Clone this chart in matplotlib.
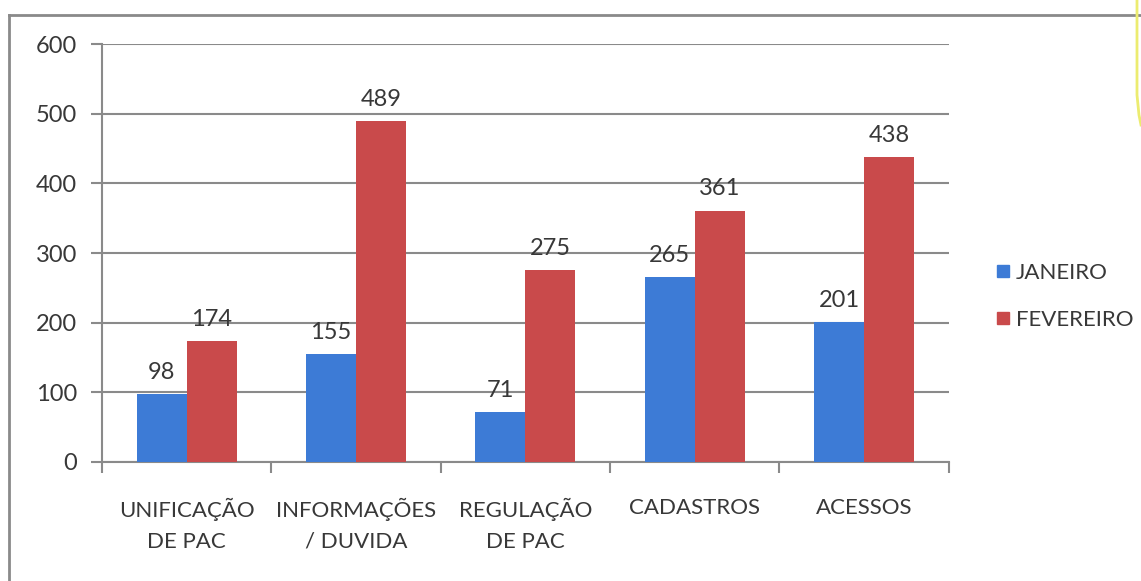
import numpy as np
import matplotlib.pyplot as plt
from matplotlib.lines import Line2D

# dados do gráfico
categorias = ["UNIFICAÇÃO\nDE PAC", "INFORMAÇÕES\n/ DUVIDA", "REGULAÇÃO\nDE PAC", "CADASTROS", "ACESSOS"]
janeiro = [98, 155, 71, 265, 201]
fevereiro = [174, 489, 275, 361, 438]
series = ["JANEIRO", "FEVEREIRO"]

AZUL = "#3d7bd6"
VERMELHO = "#c94a4b"
CINZA = "#8a8a8a"
TEXTO = "#383838"

plt.rcParams['font.family'] = ['Lato', 'DejaVu Sans']

fig = plt.figure(figsize=(11.41, 5.81), dpi=100)
ax = fig.add_axes([0.0894, 0.205, 0.742, 0.719])

x = np.arange(len(categorias))
w = 0.295
b1 = ax.bar(x - w / 2, janeiro, w, color=AZUL, label=series[0], zorder=3)
b2 = ax.bar(x + w / 2, fevereiro, w, color=VERMELHO, label=series[1], zorder=3)

for bars, vals in ((b1, janeiro), (b2, fevereiro)):
    for r, v in zip(bars, vals):
        ax.annotate(str(v), (r.get_x() + r.get_width() / 2, v), xytext=(0, 8),
                    textcoords="offset points", ha="center", va="bottom",
                    fontsize=17, color=TEXTO, zorder=4)

ax.set_xlim(-0.5, len(categorias) - 0.5)
ax.set_ylim(0, 600)
ax.set_yticks(range(0, 601, 100))
ax.yaxis.grid(True, color=CINZA, linewidth=1.5, zorder=0)
ax.set_xticks(x)
ax.set_xticklabels(categorias, fontsize=16, color=TEXTO, linespacing=1.65)
ax.set_xticks(np.arange(-0.5, len(categorias), 1), minor=True)
ax.tick_params(axis="x", which="major", length=0, pad=26)
ax.tick_params(axis="x", which="minor", length=8, width=1.5, color=CINZA, direction="out")
ax.tick_params(axis="y", length=8, width=1.5, color=CINZA, labelsize=17, labelcolor=TEXTO, pad=10)

for s in ("top", "right"):
    ax.spines[s].set_visible(False)
for s in ("left", "bottom"):
    ax.spines[s].set_color(CINZA)
    ax.spines[s].set_linewidth(1.5)

ax.legend(handles=[Line2D([], [], marker="s", ls="", color=AZUL, markersize=9),
                   Line2D([], [], marker="s", ls="", color=VERMELHO, markersize=9)],
          labels=series, loc="center left", bbox_to_anchor=(1.027, 0.396),
          frameon=False, fontsize=16, labelcolor=TEXTO, handletextpad=0.1,
          labelspacing=1.2, handlelength=1.0)

# moldura da imagem
fx = 9 / 1141
fy = 1 - 15 / 581
fig.add_artist(Line2D([fx, fx], [0, fy], color=CINZA, lw=2, transform=fig.transFigure))
fig.add_artist(Line2D([fx, 1], [fy, fy], color=CINZA, lw=2, transform=fig.transFigure))
fig.add_artist(Line2D([1137 / 1141, 1137 / 1141, 1139 / 1141, 1141 / 1141],
                      [1, 1 - 95 / 581, 1 - 115 / 581, 1 - 125 / 581],
                      color="#ecec70", lw=2, transform=fig.transFigure))

fig.savefig("out.png", dpi=100)
